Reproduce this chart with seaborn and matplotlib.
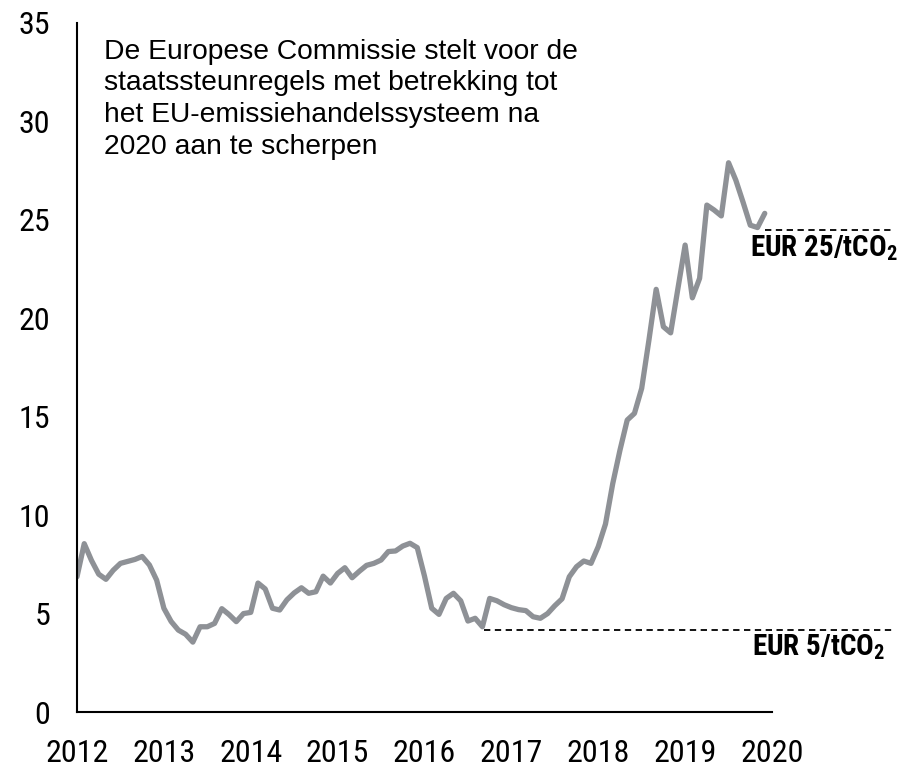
import numpy as np
import pandas as pd
import matplotlib
matplotlib.use("Agg")
import matplotlib.pyplot as plt
import seaborn as sns

# ---- data (monthly, Jan 2012 - Dec 2019) ----
start_year = 2012
prices = [
    6.87, 8.55, 7.7, 7.0, 6.74, 7.2, 7.55, 7.65, 7.75, 7.9, 7.47, 6.7,
    5.27, 4.6, 4.16, 3.95, 3.55, 4.33, 4.33, 4.5, 5.25, 4.95, 4.59, 5.0,
    5.06, 6.55, 6.25, 5.27, 5.18, 5.7, 6.05, 6.31, 6.03, 6.11, 6.9, 6.55,
    7.04, 7.33, 6.82, 7.15, 7.45, 7.55, 7.72, 8.15, 8.18, 8.43, 8.57, 8.35,
    6.9, 5.27, 4.96, 5.77, 6.03, 5.65, 4.62, 4.76, 4.33, 5.77, 5.65, 5.45,
    5.3, 5.2, 5.15, 4.84, 4.76, 5.0, 5.4, 5.75, 6.87, 7.38, 7.67, 7.55,
    8.40, 9.55, 11.6, 13.3, 14.83, 15.17, 16.44, 18.89, 21.47, 19.57, 19.26, 21.5,
    23.72, 21.04, 22.03, 25.75, 25.5, 25.2, 27.9, 27.02, 25.9, 24.73, 24.61, 25.33,
]
year_ticks = list(range(2012, 2021))
y_ticks = [0, 5, 10, 15, 20, 25, 30, 35]
ref_levels = [4.15, 24.5]
ref_starts = [2016.68, 2019.92]
ref_labels = ["EUR 5/tCO$\\mathregular{_2}$", "EUR 25/tCO$\\mathregular{_2}$"]
annotation = ("De Europese Commissie stelt voor de\n"
              "staatssteunregels met betrekking tot\n"
              "het EU-emissiehandelssysteem na\n"
              "2020 aan te scherpen")

df = pd.DataFrame({
    "t": [start_year + i / 12 for i in range(len(prices))],
    "price": prices,
})

sns.set_theme(style="white")
narrow = ["Roboto Condensed", "Archivo Narrow", "DejaVu Sans"]
plt.rcParams["font.family"] = narrow
plt.rcParams["text.color"] = "black"

fig = plt.figure(figsize=(9, 7.71), dpi=100)
ax = fig.add_axes([77 / 900, 1 - 712 / 771, (772 - 77) / 900, (712 - 23) / 771])

sns.lineplot(data=df, x="t", y="price", ax=ax, color="#8E9196", linewidth=3.8)

ax.set_xlim(2012, 2020)
ax.set_ylim(0, 35)
ax.set_xticks(year_ticks)
ax.set_xticklabels([str(y) for y in year_ticks])
ax.set_yticks(y_ticks)
ax.set_xlabel("")
ax.set_ylabel("")

for s in ["top", "right"]:
    ax.spines[s].set_visible(False)
for s in ["left", "bottom"]:
    ax.spines[s].set_color("black")
    ax.spines[s].set_linewidth(1.5)

ax.tick_params(axis="both", which="major", direction="out", length=7.2, width=1.5,
               color="black", labelsize=23, labelcolor="black")
ax.tick_params(axis="x", pad=12)
ax.tick_params(axis="y", pad=12)

for lvl, st in zip(ref_levels, ref_starts):
    ax.plot([st, 2021.4], [lvl, lvl], ls=(0, (3.5, 2.5)), color="black",
            lw=1.3, clip_on=False)

ax.text(2019.77, 2.9, ref_labels[0], fontsize=21, fontweight="bold",
        family=narrow, va="baseline", ha="left", clip_on=False, color="black")
ax.text(2019.75, 23.16, ref_labels[1], fontsize=21, fontweight="bold",
        family=narrow, va="baseline", ha="left", clip_on=False, color="black")

ax.text(2012.31, 34.2, annotation, fontsize=20.3, family=["Liberation Sans", "DejaVu Sans"],
        va="top", ha="left", linespacing=1.28, color="black")

fig.savefig("out.png", dpi=100)
